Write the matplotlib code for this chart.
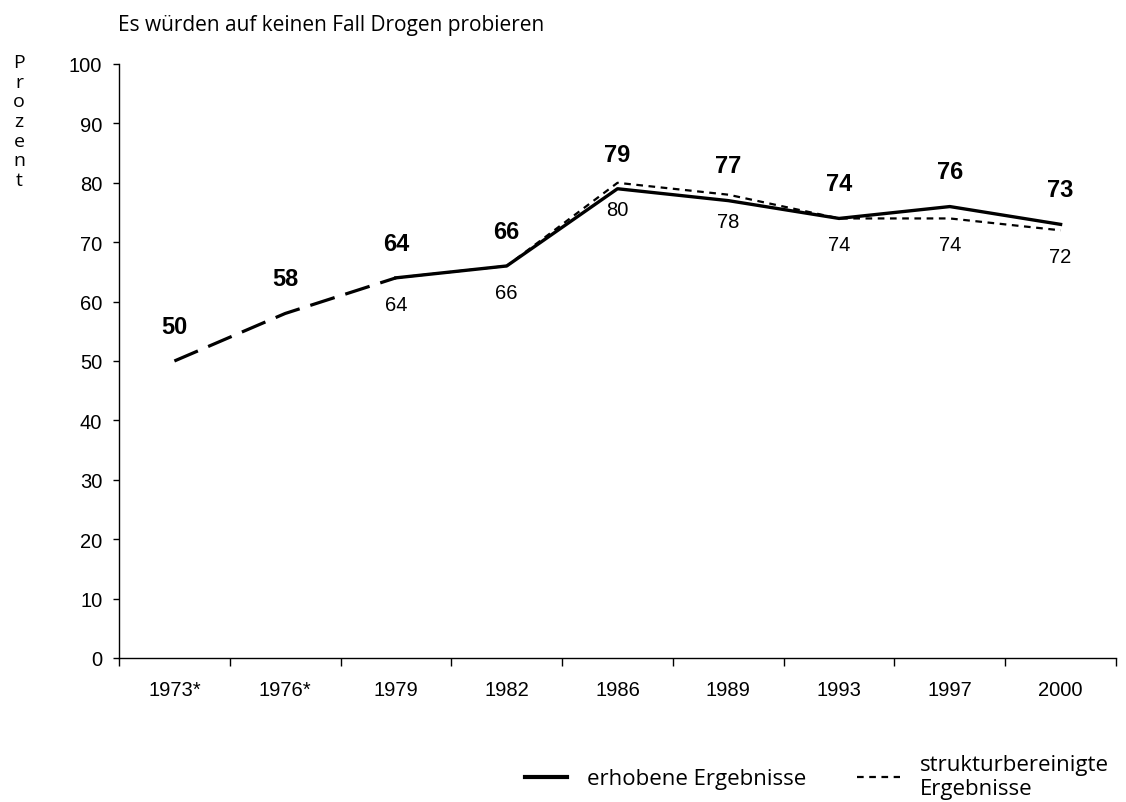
import numpy as np
import matplotlib
matplotlib.use("Agg")
import matplotlib.pyplot as plt
from matplotlib.lines import Line2D

# data
years = ["1973*", "1976*", "1979", "1982", "1986", "1989", "1993", "1997", "2000"]
erhoben = [50, 58, 64, 66, 79, 77, 74, 76, 73]
bereinigt = [None, None, 64, 66, 80, 78, 74, 74, 72]
yticks = [0, 10, 20, 30, 40, 50, 60, 70, 80, 90, 100]

title = "Es würden auf keinen Fall Drogen probieren"
ylabel = "Prozent"
label_erhoben = "erhobene Ergebnisse"
label_bereinigt = "strukturbereinigte\nErgebnisse"

plt.rcParams['font.family'] = ['Liberation Sans', 'DejaVu Sans']
text_font = ['Open Sans', 'DejaVu Sans']

fig = plt.figure(figsize=(11.26, 8.03), dpi=100)
ax = fig.add_axes([119 / 1126, 1 - 659 / 803, (1116 - 119) / 1126, (659 - 65) / 803])

x = np.arange(len(years))
# asterisk years are drawn with a long dashed line up to the first regular year
n_star = sum(1 for y in years if y.endswith('*'))
x_b = np.array([i for i, v in enumerate(bereinigt) if v is not None])
y_b = np.array([v for v in bereinigt if v is not None])

ax.plot(x_b, y_b, color='black', lw=1.6, ls=(0, (3, 2.5)), zorder=2)
ax.plot(x[:n_star + 1], erhoben[:n_star + 1], color='black', lw=2.3,
        ls=(0, (8, 3.5)), dash_capstyle='butt', zorder=3)
ax.plot(x[n_star:], erhoben[n_star:], color='black', lw=2.4, zorder=4)

for i, v in enumerate(erhoben):
    ax.annotate(str(v), (x[i], v), xytext=(0, 25), textcoords='offset points',
                ha='center', va='center', fontsize=17, fontweight='bold')
for i, v in zip(x_b, y_b):
    ax.annotate(str(v), (i, v), xytext=(0, -19), textcoords='offset points',
                ha='center', va='center', fontsize=14.5)

ax.set_xlim(-0.5, len(years) - 0.5)
ax.set_ylim(0, 100)
ax.set_yticks(yticks)
ax.set_xticks(np.arange(-0.5, len(years)), labels=[])
ax.set_xticks(x, labels=years, minor=True)
ax.tick_params(axis='x', which='major', length=6, width=1, direction='out')
ax.tick_params(axis='x', which='minor', length=0, pad=16, labelsize=14.5)
ax.tick_params(axis='y', length=4, width=1, direction='out', pad=8, labelsize=14.5)
for s in ['top', 'right']:
    ax.spines[s].set_visible(False)
for s in ['left', 'bottom']:
    ax.spines[s].set_linewidth(1)

fig.text(118 / 1126, 1 - 26 / 803, title, ha='left', va='center',
         fontsize=15, family=text_font)
fig.text(19 / 1126, 1 - 54 / 803, "\n".join(ylabel), ha='center', va='top',
         fontsize=14, family=text_font, linespacing=1.12)

handles = [Line2D([], [], color='black', lw=3),
           Line2D([], [], color='black', lw=1.6, ls=(0, (3, 2.5)))]
fig.legend(handles, [label_erhoben, label_bereinigt], loc='upper left',
           bbox_to_anchor=(516 / 1126, 1 - 746 / 803), ncol=2, frameon=False,
           prop={'family': text_font, 'size': 16}, handlelength=1.9,
           handletextpad=0.9, columnspacing=2.3, borderaxespad=0)

fig.savefig("out.png", dpi=100)
